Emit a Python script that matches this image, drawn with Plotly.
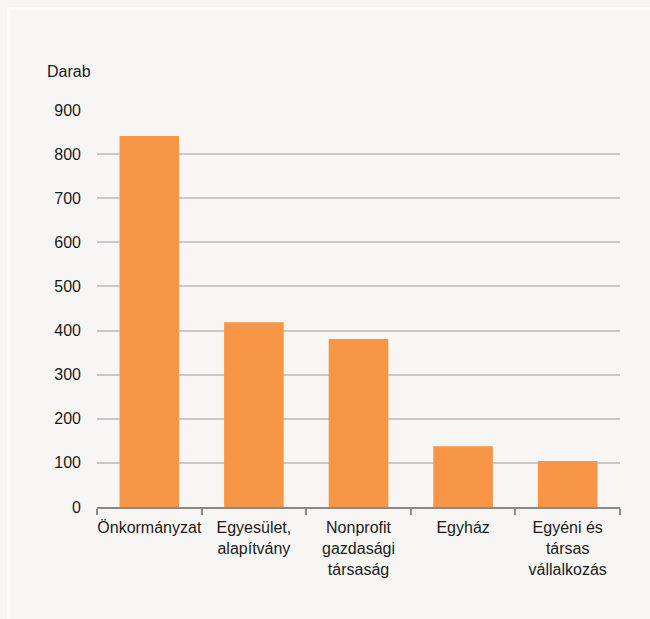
import plotly.graph_objects as go

categories = ["Önkormányzat", "Egyesület,<br>alapítvány", "Nonprofit<br>gazdasági<br>társaság",
              "Egyház", "Egyéni és<br>társas<br>vállalkozás"]
values = [841, 419, 381, 138, 104]
y_ticks = [0, 100, 200, 300, 400, 500, 600, 700, 800, 900]

W, H = 650, 619
L, R, T, B = 97, 30, 110, 112
pw, ph = W - L - R, H - T - B

def px_x(p):
    return (p - L) / pw

def px_y(p):
    return (H - B - p) / ph

bg = "#f7f6f4"
fig = go.Figure(go.Bar(x=categories, y=values, marker_color="#f79646", marker_line_width=0))

fig.update_layout(
    width=W, height=H,
    margin=dict(l=L, r=R, t=T, b=B),
    paper_bgcolor=bg, plot_bgcolor=bg,
    font=dict(family="Liberation Sans, Arial, sans-serif", size=16, color="#1a1a1a"),
    bargap=0.43,
    showlegend=False,
    xaxis=dict(showgrid=False, showline=True, linecolor="#898989", linewidth=2,
               ticks="outside", ticklen=6, tickcolor="#898989", tickwidth=2,
               tickson="boundaries", tickangle=0, ticklabelstandoff=5, fixedrange=True),
    yaxis=dict(range=[0, 900], tickvals=y_ticks, showgrid=True, gridcolor="#c8c8c8",
               gridwidth=1.5, zeroline=False, showline=False, ticks="",
               ticklabelstandoff=15, fixedrange=True),
    annotations=[dict(text="Darab", xref="paper", yref="paper", x=px_x(45), y=px_y(72),
                      xanchor="left", yanchor="middle", showarrow=False,
                      font=dict(size=16, color="#1a1a1a"))],
    shapes=[dict(type="rect", xref="paper", yref="paper", x0=px_x(8.5), x1=px_x(670),
                 y0=px_y(640), y1=px_y(8.5), line=dict(color="white", width=2.5),
                 fillcolor="rgba(0,0,0,0)", layer="below")],
)

fig.write_html("out.html", config={"displayModeBar": False},
               post_script="document.body.style.margin='0';document.body.style.background='#f7f6f4';")
